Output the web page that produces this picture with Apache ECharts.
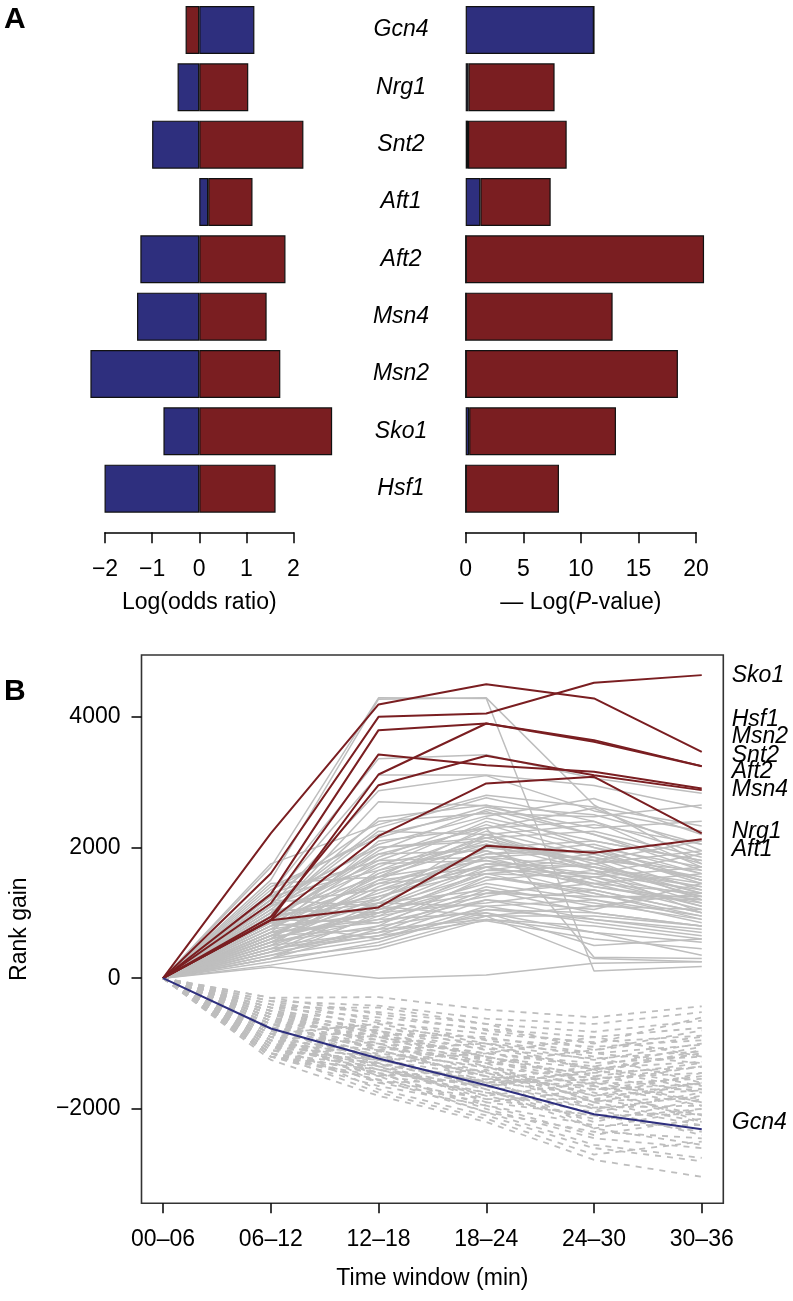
<!DOCTYPE html>
<html><head><meta charset="utf-8">
<script src="https://cdn.jsdelivr.net/npm/echarts@6/dist/echarts.min.js"></script>
<style>html,body{margin:0;padding:0;background:#fff}#c{width:793px;height:1301px}</style>
</head><body><div id="c"></div>
<script>
// ---------- Panel A data ----------
const genes = ['Gcn4','Nrg1','Snt2','Aft1','Aft2','Msn4','Msn2','Sko1','Hsf1'];
const oddsBlue = [1.17,-0.46,-1.00,0.19,-1.25,-1.32,-2.31,-0.76,-2.01];
const oddsRed  = [-0.29,1.04,2.21,0.94,1.83,1.43,1.72,2.82,1.62];
const pvalBlue = [11.14,0.23,0.20,1.27,0,0,0,0.30,0];
const pvalRed  = [0,7.49,8.57,6.11,20.7,12.76,18.43,12.75,8.10];
const oddsTicks = [-2,-1,0,1,2];
const pvalTicks = [0,5,10,15,20];

// ---------- Panel B data ----------
const timeWindows = ['00–06','06–12','12–18','18–24','24–30','30–36'];
const rankTicks = [-2000,0,2000,4000];
const highlightNames = ['Sko1','Hsf1','Msn2','Snt2','Aft2','Msn4','Nrg1','Aft1'];
const highlightLines = [
  [0,1603,4000,4052,4520,4638],
  [0,2215,4189,4500,4281,3464],
  [0,1286,3796,3898,3643,3245],
  [0,888,3117,3898,3617,3245],
  [0,1143,3424,3260,3158,2904],
  [0,938,2954,3403,3107,2878],
  [0,888,2173,2980,3082,2215],
  [0,888,1082,2025,1918,2128]
];
const highlightLabelY = [4638,3964,3694,3413,3158,2893,2250,1975];
const gcn4Line = [0,-770,-1229,-1638,-2082,-2311];
const gcn4LabelY = -2215;

const grayUp = [
  [0,1700,4290,4280,110,180],[0,1500,4270,4290,2650,1750],[0,1300,3360,3420,3060,2830],
  [0,1200,3110,3110,2950,2600],[0,1100,2870,3100,2560,2250],[0,1750,2350,2800,2620,2330],
  [0,950,2700,2640,2500,2050],[0,1250,2400,2520,2470,2650],[0,1050,2300,2760,2400,1900],
  [0,1400,2150,2620,2300,2400],[0,1150,2050,2480,2750,2200],[0,900,1950,2580,2200,1650],
  [0,1000,2250,2200,2350,2050],[0,800,1850,2450,2100,1800],[0,1300,1800,2350,1900,1500],
  [0,700,2100,2300,2600,1950],[0,1200,2000,2100,1700,1250],[0,950,1700,2400,2000,1700],
  [0,600,1650,2250,1850,1550],[0,850,1600,2150,2250,1850],[0,1100,1900,1950,1500,1100],
  [0,750,1750,2050,1650,1400],[0,500,1500,2200,1750,1300],[0,900,1450,1900,1950,1600],
  [0,1000,1550,1800,1600,1900],[0,650,1400,1950,1400,1150],[0,800,1300,1850,1700,1450],
  [0,1150,1350,1700,1300,900],[0,550,1250,1750,1550,1700],[0,700,1200,2000,1800,1200],
  [0,950,1250,1650,1850,1350],[0,450,1150,1850,1450,1050],[0,850,1100,1600,1250,1250],
  [0,600,1050,1700,1900,1500],[0,1050,1000,1550,1350,1000],[0,400,950,1650,1600,1350],
  [0,750,1000,1450,1200,850],[0,550,900,1500,1650,1150],[0,900,850,1400,1100,1300],
  [0,350,800,1550,1300,950],[0,650,1150,1350,1000,800],[0,500,1050,1300,1450,1600],
  [0,800,950,1250,1550,1100],[0,300,750,1350,1150,900],[0,700,850,1200,900,750],
  [0,450,700,1300,1250,1200],[0,600,1000,1150,1350,1000],[0,950,1150,1100,850,650],
  [0,400,650,1200,1050,1450],[0,550,800,1050,1000,800],[0,350,600,1100,1200,950],
  [0,700,900,1000,700,550],[0,250,550,1050,900,700],[0,500,700,950,1100,1050],
  [0,650,750,900,800,600],[0,300,500,950,950,800],[0,450,650,880,600,450],
  [0,200,450,900,700,350],[0,850,600,1000,500,600],[0,1200,1100,950,300,250],
  [0,170,0,50,230,250],[0,900,1900,2300,320,300],[0,600,1600,2100,1800,2100],
  [0,1350,2200,2550,2000,1500],[0,1000,2450,2650,2200,1750],[0,750,1550,2300,2400,1700],
  [0,1250,1650,2000,2100,1800],[0,550,1350,1900,2050,1600],[0,1100,1750,1800,1400,1200],
  [0,850,2000,2150,1700,1300],[0,400,1100,1750,1700,1400],[0,650,1450,1600,1750,1950],
  [0,1000,1200,2200,1650,1000],[0,800,1500,1700,1450,1300],[0,950,1800,1850,1950,1450],
  [0,300,1000,1600,1550,1250],[0,1450,1550,2050,1800,1650]
];
const grayDown = [
  [0,-300,-290,-480,-600,-430],[0,-350,-420,-620,-700,-520],[0,-400,-520,-700,-820,-650],
  [0,-450,-600,-780,-900,-760],[0,-500,-680,-850,-980,-880],[0,-550,-760,-930,-1050,-950],
  [0,-600,-820,-1000,-1150,-1020],[0,-650,-880,-1080,-1230,-1120],[0,-700,-950,-1150,-1300,-1200],
  [0,-750,-1000,-1220,-1380,-1280],[0,-800,-1060,-1300,-1450,-1360],[0,-850,-1120,-1370,-1530,-1450],
  [0,-900,-1180,-1430,-1620,-1540],[0,-950,-1250,-1500,-1700,-1620],[0,-1000,-1320,-1580,-1790,-1720],
  [0,-1050,-1400,-1660,-1880,-1830],[0,-1100,-1480,-1750,-1980,-1950],[0,-1150,-1560,-1850,-2100,-2080],
  [0,-1200,-1650,-1950,-2250,-2250],[0,-1250,-1800,-2200,-2780,-3040],[0,-500,-900,-1300,-1100,-800],
  [0,-600,-1100,-1000,-1400,-1700],[0,-700,-800,-1250,-1600,-1350],[0,-800,-1250,-1150,-900,-1200],
  [0,-900,-1000,-1600,-1450,-1100],[0,-1000,-1150,-1350,-1900,-2200],[0,-1100,-1300,-1900,-1700,-1500],
  [0,-1200,-1500,-1400,-2000,-2400],[0,-650,-1200,-1700,-2300,-2000],[0,-750,-1350,-1800,-1600,-1900],
  [0,-850,-700,-1000,-1250,-1000],[0,-950,-1450,-2000,-2450,-2600],[0,-1050,-1600,-1550,-1350,-1650],
  [0,-1150,-1350,-1700,-2200,-1850],[0,-550,-1000,-1450,-1750,-2100],[0,-450,-850,-1200,-1500,-1300],
  [0,-350,-650,-950,-1200,-1600],[0,-1000,-1700,-2100,-2600,-2800],[0,-900,-1400,-1750,-2050,-1750],
  [0,-800,-1500,-2050,-2350,-2450],[0,-700,-1100,-1500,-1950,-2250],[0,-600,-950,-1350,-1800,-1450],
  [0,-500,-800,-1100,-1650,-1950],[0,-1100,-1250,-1600,-1550,-1350],[0,-1200,-1400,-1800,-2150,-2000],
  [0,-850,-1300,-1650,-1400,-1150],[0,-950,-1100,-1500,-2300,-2550],[0,-750,-1050,-1250,-1700,-1700],
  [0,-650,-900,-1150,-1350,-1050],[0,-550,-850,-900,-1150,-1300],[0,-1050,-1200,-1450,-1850,-2100],
  [0,-1150,-1450,-1650,-1500,-1750],[0,-400,-750,-1050,-1400,-1150],[0,-850,-1600,-1900,-2100,-2350],
  [0,-950,-1350,-1850,-1850,-1600],[0,-700,-1250,-1600,-2000,-1800],[0,-800,-900,-1200,-1550,-1900],
  [0,-1000,-1450,-1950,-2400,-2150],[0,-600,-1300,-1550,-1650,-2200],[0,-1150,-1750,-2150,-2700,-2500],
  [0,-300,-550,-800,-1000,-600],[0,-450,-450,-700,-1100,-900],[0,-1200,-1550,-2050,-2550,-2750],
  [0,-500,-1050,-1300,-1900,-1600]
];

// ---------- styles ----------
const FONT = '"Liberation Sans", Arial, Helvetica, sans-serif';
const BLUE = '#2E2F7E';
const RED = '#7A1E21';
const GRAY = '#BEBEBE';
const INK = '#000';
const minus = v => String(v).replace('-', '\u2212');
const toXY = arr => arr.map((v, i) => [i, v]);

const chart = echarts.init(document.getElementById('c'), null, {renderer: 'canvas'});

const barBase = {type: 'bar', barWidth: 48, clip: false, itemStyle: {borderColor: '#111', borderWidth: 1.2}, silent: true};
const series = [
  Object.assign({}, barBase, {xAxisIndex: 0, yAxisIndex: 0, stack: 'odds', data: oddsBlue, itemStyle: Object.assign({}, barBase.itemStyle, {color: BLUE})}),
  Object.assign({}, barBase, {xAxisIndex: 0, yAxisIndex: 0, stack: 'odds', data: oddsRed, itemStyle: Object.assign({}, barBase.itemStyle, {color: RED})}),
  Object.assign({}, barBase, {xAxisIndex: 1, yAxisIndex: 1, stack: 'pval', data: pvalBlue, itemStyle: Object.assign({}, barBase.itemStyle, {color: BLUE})}),
  Object.assign({}, barBase, {xAxisIndex: 1, yAxisIndex: 1, stack: 'pval', data: pvalRed, itemStyle: Object.assign({}, barBase.itemStyle, {color: RED})})
];
grayUp.forEach(l => series.push({type: 'line', xAxisIndex: 2, yAxisIndex: 2, data: toXY(l), symbol: 'none', silent: true, z: 1,
  lineStyle: {color: GRAY, width: 1.5}}));
grayDown.forEach(l => series.push({type: 'line', xAxisIndex: 2, yAxisIndex: 2, data: toXY(l), symbol: 'none', silent: true, z: 1,
  lineStyle: {color: GRAY, width: 1.8, type: [6, 6]}}));
highlightLines.forEach(l => series.push({type: 'line', xAxisIndex: 2, yAxisIndex: 2, data: toXY(l), symbol: 'none', silent: true, z: 3,
  lineStyle: {color: RED, width: 2}}));
series.push({type: 'line', xAxisIndex: 2, yAxisIndex: 2, data: toXY(gcn4Line), symbol: 'none', silent: true, z: 3,
  lineStyle: {color: BLUE, width: 2}});
series.push({type: 'scatter', xAxisIndex: 2, yAxisIndex: 2, symbolSize: 0, silent: true, z: 4,
  itemStyle: {opacity: 1},
  data: highlightNames.map((n, i) => ({name: n, value: [5, highlightLabelY[i]]})).concat([{name: 'Gcn4', value: [5, gcn4LabelY]}]),
  label: {show: true, position: 'right', distance: 30, formatter: '{b}', fontFamily: FONT, fontStyle: 'italic', fontSize: 23, color: INK, opacity: 1}});

const axisCommon = {
  axisLine: {show: true, onZero: false, lineStyle: {color: INK, width: 1.5}},
  axisTick: {show: true, length: 11, lineStyle: {color: INK, width: 1.5}},
  splitLine: {show: false},
  axisLabel: {fontFamily: FONT, fontSize: 23, color: INK},
  nameTextStyle: {fontFamily: FONT, fontSize: 23, color: INK, verticalAlign: 'middle'}
};

const option = {
  animation: false,
  backgroundColor: '#fff',
  textStyle: {fontFamily: FONT},
  grid: [
    {left: 105, top: 1.3, width: 188.5, height: 516},
    {left: 465.7, top: 1.3, width: 230.3, height: 516},
    {left: 132.7, top: 655, width: 590.6, height: 548.3, show: true, borderColor: '#333', borderWidth: 1.6, backgroundColor: 'transparent'}
  ],
  xAxis: [
    Object.assign({}, axisCommon, {gridIndex: 0, type: 'value', min: oddsTicks[0], max: oddsTicks[oddsTicks.length-1], interval: 1, offset: 15,
      axisLabel: Object.assign({}, axisCommon.axisLabel, {margin: 26, formatter: minus}),
      name: 'Log(odds ratio)', nameLocation: 'middle', nameGap: 70}),
    Object.assign({}, axisCommon, {gridIndex: 1, type: 'value', min: pvalTicks[0], max: pvalTicks[pvalTicks.length-1], interval: 5, offset: 15,
      axisLabel: Object.assign({}, axisCommon.axisLabel, {margin: 26}),
      name: '{n|\u2014 Log(}{i|P}{n|-value)}', nameLocation: 'middle', nameGap: 70,
      nameTextStyle: Object.assign({}, axisCommon.nameTextStyle, {rich: {
        n: {fontFamily: FONT, fontSize: 23, color: INK},
        i: {fontFamily: FONT, fontSize: 23, color: INK, fontStyle: 'italic'}}})}),
    Object.assign({}, axisCommon, {gridIndex: 2, type: 'value', min: -0.2, max: 5.2,
      axisLine: {show: false, onZero: false},
      axisTick: Object.assign({}, axisCommon.axisTick, {length: 10, customValues: [0,1,2,3,4,5]}),
      axisLabel: Object.assign({}, axisCommon.axisLabel, {margin: 25, customValues: [0,1,2,3,4,5], formatter: v => timeWindows[Math.round(v)]}),
      name: 'Time window (min)', nameLocation: 'middle', nameGap: 75})
  ],
  yAxis: [
    {gridIndex: 0, type: 'category', data: genes, inverse: true, position: 'right',
      axisLine: {show: false}, axisTick: {show: false}, splitLine: {show: false},
      axisLabel: {align: 'center', margin: 107.5, fontFamily: FONT, fontStyle: 'italic', fontSize: 23, color: INK}},
    {gridIndex: 1, type: 'category', data: genes, inverse: true, show: false},
    Object.assign({}, axisCommon, {gridIndex: 2, type: 'value', min: -3445, max: 4946,
      axisLine: {show: false, onZero: false},
      axisTick: Object.assign({}, axisCommon.axisTick, {length: 10, customValues: rankTicks}),
      axisLabel: Object.assign({}, axisCommon.axisLabel, {margin: 21, customValues: rankTicks, formatter: minus}),
      name: 'Rank gain', nameLocation: 'middle', nameGap: 122})
  ],
  graphic: [
    {type: 'text', left: 4, top: 5, style: {text: 'A', font: 'bold 30px ' + FONT, fill: '#000'}},
    {type: 'text', left: 4, top: 677, style: {text: 'B', font: 'bold 30px ' + FONT, fill: '#000'}}
  ],
  series: series
};
chart.setOption(option);
</script>
</body></html>
